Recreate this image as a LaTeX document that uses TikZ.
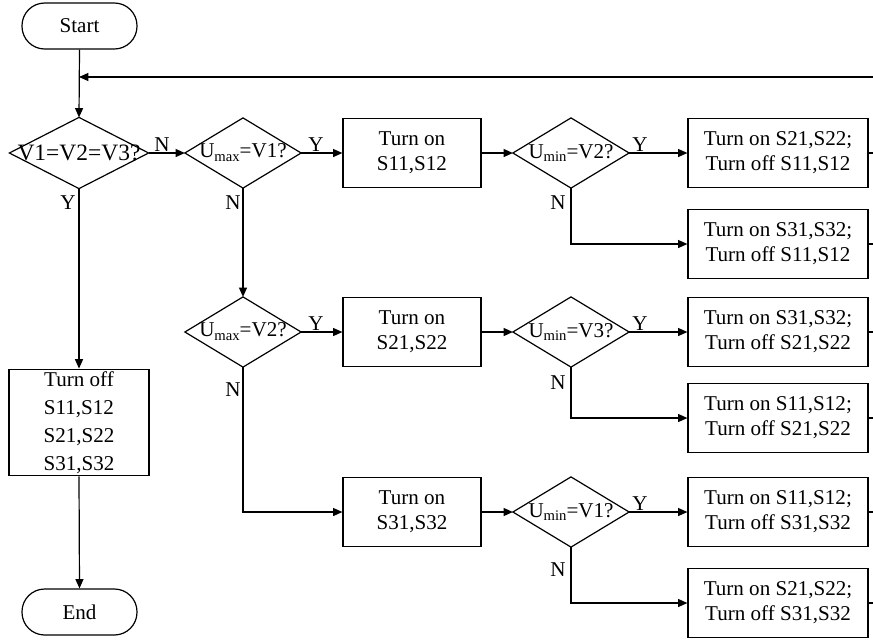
\documentclass[tikz,border=0pt]{standalone}
\usepackage{fontspec}
\setmainfont{Liberation Serif}
\usetikzlibrary{arrows.meta}
\newcommand\sbt[1]{\raisebox{-0.4ex}{\fontsize{11pt}{11pt}\selectfont #1}}
\begin{document}
\begin{tikzpicture}[x=0.75pt,y=-0.75pt, line width=0.9pt,
 every node/.style={font=\fontsize{15.8pt}{18.8pt}\selectfont},
 >={Triangle[length=7pt,width=6pt]},
 dia/.style={inner sep=0pt, minimum width=86.25pt, minimum height=51.75pt},
 box/.style={draw, inner sep=0pt, minimum width=103.5pt, minimum height=51.75pt, align=center},
 rbox/.style={draw, inner sep=0pt, minimum width=135pt, minimum height=51.75pt, align=center},
 term/.style={draw, rounded corners=17pt, minimum width=86.25pt, minimum height=34.5pt, inner sep=0pt},
 lbl/.style={inner sep=0pt}]
\useasboundingbox (0,0) rectangle (873,640);

\node[term] (start) at (79.5,26) {Start};
\node[term] (end) at (79.5,612) {End};
\coordinate (j) at (79,77);
\coordinate (fb) at (873,77);

\node[dia, minimum width=103.5pt, minimum height=52.5pt, font=\fontsize{17.6pt}{20pt}\selectfont] (d1) at (79,153) {V1=V2=V3?};
\node[dia] (d2) at (243,153) {U\sbt{max}=V1?};
\node[dia] (d3) at (571,153) {U\sbt{min}=V2?};
\node[dia] (d4) at (243,332) {U\sbt{max}=V2?};
\node[dia] (d5) at (571,332) {U\sbt{min}=V3?};
\node[dia] (d6) at (571,512) {U\sbt{min}=V1?};
\foreach \n in {d1,d2,d3,d4,d5,d6}
  \draw (\n.north) -- (\n.east) -- (\n.south) -- (\n.west) -- cycle;

\node[box] (b1) at (412,153) {Turn on\\S11,S12};
\node[box] (b2) at (412,332) {Turn on\\S21,S22};
\node[box] (b3) at (412,512) {Turn on\\S31,S32};

\node[rbox] (r1) at (778,153) {Turn on S21,S22;\\Turn off S11,S12};
\node[rbox] (r2) at (778,244) {Turn on S31,S32;\\Turn off S11,S12};
\node[rbox] (r3) at (778,332) {Turn on S31,S32;\\Turn off S21,S22};
\node[rbox] (r4) at (778,418) {Turn on S11,S12;\\Turn off S21,S22};
\node[rbox] (r5) at (778,512) {Turn on S11,S12;\\Turn off S31,S32};
\node[rbox] (r6) at (778,603) {Turn on S21,S22;\\Turn off S31,S32};

\node[draw, inner sep=0pt, minimum width=105pt, minimum height=80pt, align=center,
  font=\fontsize{15.8pt}{21pt}\selectfont] (off) at (79,422.5) {Turn off\\S11,S12\\S21,S22\\S31,S32};

% connectors
\draw[->] (start.south) -- (d1.north);
\draw[->] (fb) -- (j);
\draw[->] (d1.east) -- (d2.west);
\draw[->] (d1.south) -- (off.north);
\draw[->] (off.south) -- (end.north);
\draw[->] (d2.east) -- (b1.west);
\draw[->] (b1.east) -- (d3.west);
\draw[->] (d3.east) -- (r1.west);
\draw[->] (d3.south) |- (r2.west);
\draw[->] (d2.south) -- (d4.north);
\draw[->] (d4.east) -- (b2.west);
\draw[->] (b2.east) -- (d5.west);
\draw[->] (d5.east) -- (r3.west);
\draw[->] (d5.south) |- (r4.west);
\draw[->] (d4.south) |- (b3.west);
\draw[->] (b3.east) -- (d6.west);
\draw[->] (d6.east) -- (r5.west);
\draw[->] (d6.south) |- (r6.west);
\foreach \n in {r1,r2,r3,r4,r5,r6}
  \draw (\n.east) -- (\n.east -| fb);

% labels
\node[lbl] (l1) at (162,145) {N};
\node[lbl] (l2) at (68,203) {Y};
\node[lbl] (l3) at (233,203) {N};
\node[lbl] (l4) at (316,145) {Y};
\node[lbl] (l5) at (640,145) {Y};
\node[lbl] (l6) at (558,203) {N};
\node[lbl] (l7) at (233,390) {N};
\node[lbl] (l8) at (316,324) {Y};
\node[lbl] (l9) at (640,324) {Y};
\node[lbl] (l10) at (558,383) {N};
\node[lbl] (l11) at (640,504) {Y};
\node[lbl] (l12) at (558,570) {N};
\end{tikzpicture}
\end{document}
